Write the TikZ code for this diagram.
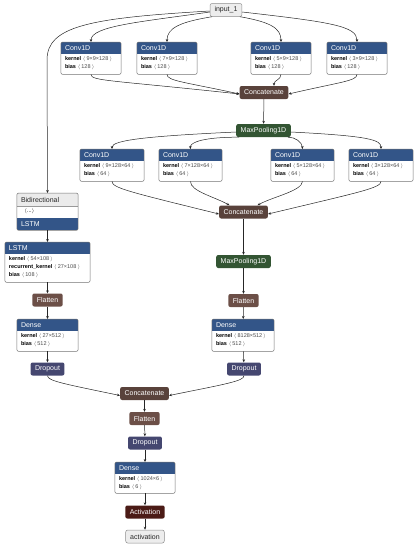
\documentclass[tikz,border=0pt]{standalone}
\usepackage{fontspec}
\setmainfont{Liberation Sans}
\usepackage{tikz}
\usetikzlibrary{arrows.meta}

\definecolor{layercol}{RGB}{51,85,136}
\definecolor{poolcol}{RGB}{51,85,51}
\definecolor{dropcol}{RGB}{69,71,112}
\definecolor{tensorcol}{RGB}{89,66,59}
\definecolor{shapecol}{RGB}{108,79,71}
\definecolor{actcol}{RGB}{75,27,22}

\newcommand{\kv}[2]{\textbf{#1}\ {\color{black!70}$\langle$\,#2\,$\rangle$}}

% layer with blue title bar and attribute lines
\newcommand{\layerbox}[7]{%
  \node[frame,minimum width=#4pt,minimum height=#5pt,anchor=north] (#1) at (#2,#3) {};
  \begin{scope}
    \clip[rounded corners=2pt] (#1.north west) rectangle (#1.south east);
    \fill[layercol] (#1.north west) rectangle ([yshift=-12pt]#1.north east);
  \end{scope}
  \draw[black!55,line width=0.5pt,rounded corners=2pt] (#1.north west) rectangle (#1.south east);
  \node[headtext,anchor=west] at ([xshift=4pt,yshift=-6pt]#1.north west) {#6};
  \node[attrs,anchor=north west] at ([xshift=4pt,yshift=-14.8pt]#1.north west) {#7};
}

\begin{document}
\begin{tikzpicture}[x=1pt,y=-1pt,
    >={Stealth[length=3pt,width=2.6pt]},
    link/.style={->,draw=black!85,line width=0.5pt},
    frame/.style={fill=white,inner sep=0pt},
    headtext/.style={text=white,inner sep=0pt,font=\fontsize{7}{8}\selectfont},
    attrs/.style={align=left,inner sep=0pt,font=\fontsize{5.5}{7.8}\selectfont},
    op/.style={rounded corners=2pt,minimum height=13pt,inner xsep=4.5pt,inner ysep=0pt,text=white,font=\fontsize{7}{8}\selectfont},
    concat/.style={op,fill=tensorcol},
    flat/.style={op,fill=shapecol},
    pool/.style={op,fill=poolcol},
    drop/.style={op,fill=dropcol},
    act/.style={op,fill=actcol},
    io/.style={op,fill=black!7,draw=black!45,line width=0.5pt,text=black!85}]
\useasboundingbox (0,0) rectangle (418,550);

\node[io] (inp) at (226,10) {input\_1};

\layerbox{c1}{91}{42}{60}{32}{Conv1D}{\kv{kernel}{9×9×128}\\\kv{bias}{128}}
\layerbox{c2}{167}{42}{60}{32}{Conv1D}{\kv{kernel}{7×9×128}\\\kv{bias}{128}}
\layerbox{c3}{281}{42}{60}{32}{Conv1D}{\kv{kernel}{5×9×128}\\\kv{bias}{128}}
\layerbox{c4}{357}{42}{60}{32}{Conv1D}{\kv{kernel}{3×9×128}\\\kv{bias}{128}}

\node[concat] (cat1) at (264,92.5) {Concatenate};
\node[pool] (mp1) at (263.5,130.5) {MaxPooling1D};

\layerbox{c5}{112}{149}{64}{32}{Conv1D}{\kv{kernel}{9×128×64}\\\kv{bias}{64}}
\layerbox{c6}{190.5}{149}{63}{32}{Conv1D}{\kv{kernel}{7×128×64}\\\kv{bias}{64}}
\layerbox{c7}{302.5}{149}{63}{32}{Conv1D}{\kv{kernel}{5×128×64}\\\kv{bias}{64}}
\layerbox{c8}{381}{149}{64}{32}{Conv1D}{\kv{kernel}{3×128×64}\\\kv{bias}{64}}

\node[concat] (cat2) at (243.5,212) {Concatenate};
\node[pool] (mp2) at (243.5,261.5) {MaxPooling1D};
\node[flat] (fl2) at (243.5,300.5) {Flatten};
\layerbox{d2}{243}{319}{62}{32}{Dense}{\kv{kernel}{8128×512}\\\kv{bias}{512}}
\node[drop] (dr2) at (244,369) {Dropout};

% wrapper
\node[frame,minimum width=61pt,minimum height=37pt,anchor=north] (bi) at (47.5,193) {};
\begin{scope}
  \clip[rounded corners=2pt] (bi.north west) rectangle (bi.south east);
  \fill[black!8] (bi.north west) rectangle ([yshift=-13pt]bi.north east);
  \fill[layercol] ([yshift=12pt]bi.south west) rectangle (bi.south east);
\end{scope}
\draw[black!40,line width=0.4pt] ([yshift=-13pt]bi.north west) -- ([yshift=-13pt]bi.north east);
\draw[black!55,line width=0.5pt,rounded corners=2pt] (bi.north west) rectangle (bi.south east);
\node[headtext,text=black!85,anchor=west] at ([xshift=4pt,yshift=-6.5pt]bi.north west) {Bidirectional};
\node[attrs,anchor=west] at ([xshift=7pt,yshift=-18.7pt]bi.north west) {$\langle$...$\rangle$};
\node[headtext,anchor=west] at ([xshift=4pt,yshift=6pt]bi.south west) {LSTM};

\layerbox{lstm}{47.5}{242}{85}{40}{LSTM}{\kv{kernel}{54×108}\\\kv{recurrent\_kernel}{27×108}\\\kv{bias}{108}}
\node[flat] (fl1) at (47.5,300) {Flatten};
\layerbox{d1}{47.5}{319}{61}{32}{Dense}{\kv{kernel}{27×512}\\\kv{bias}{512}}
\node[drop] (dr1) at (47.5,369) {Dropout};

\node[concat] (cat3) at (144.5,393.5) {Concatenate};
\node[flat] (fl3) at (144.5,418.5) {Flatten};
\node[drop] (dr3) at (145,443) {Dropout};
\layerbox{d3}{145}{462}{60}{31}{Dense}{\kv{kernel}{1024×6}\\\kv{bias}{6}}
\node[act] (ac) at (145,512) {Activation};
\node[io] (out) at (145,536.5) {activation};

\coordinate (turn) at (47,60);

% input fan-out
\draw[link] ([yshift=-2pt]inp.west) .. controls (140,22) and (91,26) .. (c1.north);
\draw[link] ([xshift=2pt]inp.south west) .. controls (180,22) and (167,28) .. (c2.north);
\draw[link] ([xshift=-2pt]inp.south east) .. controls (270,22) and (281,28) .. (c3.north);
\draw[link] ([yshift=-2pt]inp.east) .. controls (330,22) and (357,26) .. (c4.north);
\draw[link] ([yshift=-1pt]inp.west) .. controls (90,18) and (47,26) .. (turn) -- (bi.north);

\draw[link] (c1.south) .. controls (91,81) and (110,80) .. ([yshift=-1.5pt]cat1.west);
\draw[link] (c2.south) .. controls (167,81) and (185,82) .. ([yshift=-1.5pt]cat1.west);
\draw[link] (c3.south) .. controls (281,80) and (274,80) .. ([xshift=10pt]cat1.north);
\draw[link] (c4.south) .. controls (357,81) and (340,82) .. ([yshift=-1.5pt]cat1.east);
\draw[link] (cat1) -- (mp1);

\draw[link] ([yshift=-1.5pt]mp1.west) .. controls (150,136) and (112,140) .. (c5.north);
\draw[link] ([xshift=3pt]mp1.south west) .. controls (205,137) and (190,142) .. (c6.north);
\draw[link] ([xshift=-3pt]mp1.south east) .. controls (295,137) and (302,142) .. (c7.north);
\draw[link] ([yshift=-1.5pt]mp1.east) .. controls (370,136) and (381,140) .. (c8.north);

\draw[link] (c5.south) .. controls (112,188) and (130,192) .. ([yshift=-2pt]cat2.west);
\draw[link] (c6.south) .. controls (190,191) and (215,197) .. ([xshift=-14pt]cat2.north);
\draw[link] (c7.south) .. controls (302,191) and (272,197) .. ([xshift=14pt]cat2.north);
\draw[link] (c8.south) .. controls (381,188) and (360,192) .. ([yshift=-2pt]cat2.east);

\draw[link] (cat2) -- (mp2);
\draw[link] (mp2) -- (fl2);
\draw[link] (fl2) -- (d2);
\draw[link] (d2) -- (dr2);

\draw[link] (bi) -- (lstm);
\draw[link] (lstm) -- (fl1);
\draw[link] (fl1) -- (d1);
\draw[link] (d1) -- (dr1);

\draw[link] (dr1.south) .. controls (47.5,381) and (65,384) .. ([yshift=-2pt]cat3.west);
\draw[link] (dr2.south) .. controls (244,381) and (226,384) .. ([yshift=-2pt]cat3.east);
\draw[link] (cat3) -- (fl3);
\draw[link] (fl3) -- (dr3);
\draw[link] (dr3) -- (d3);
\draw[link] (d3) -- (ac);
\draw[link] (ac) -- (out);
\end{tikzpicture}
\end{document}
